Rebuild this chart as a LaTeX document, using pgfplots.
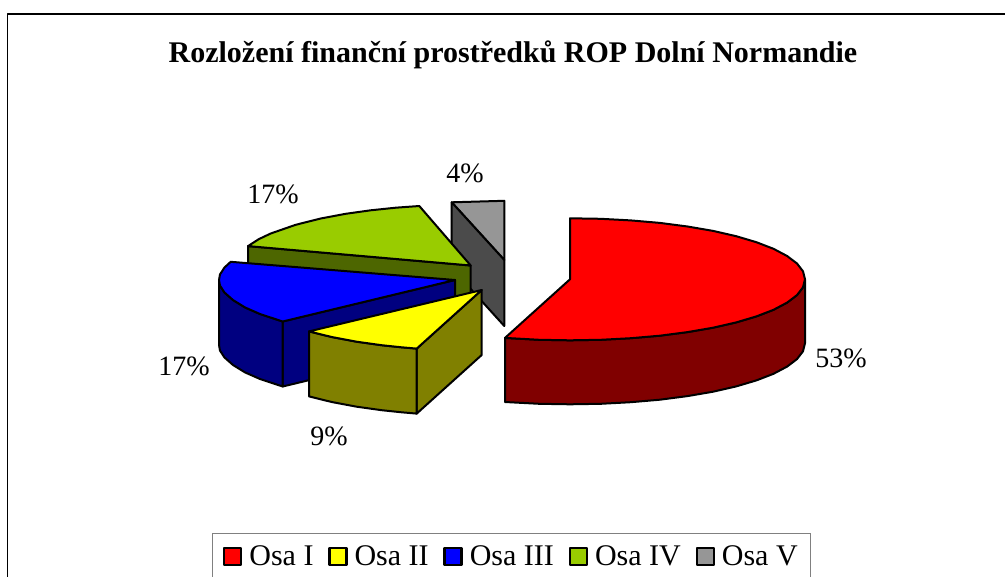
\documentclass[border=0pt]{standalone}
\usepackage{pgfplots}
\pgfplotsset{compat=1.18}
\usepackage{fontspec}
\setmainfont{Liberation Serif}
\definecolor{cRed}{RGB}{255,0,0}
\definecolor{cRedD}{RGB}{128,0,0}
\definecolor{cYel}{RGB}{255,255,0}
\definecolor{cYelD}{RGB}{128,128,0}
\definecolor{cBlu}{RGB}{0,0,255}
\definecolor{cBluD}{RGB}{0,0,128}
\definecolor{cGrn}{RGB}{153,204,0}
\definecolor{cGrnD}{RGB}{77,102,0}
\definecolor{cGry}{RGB}{150,150,150}
\definecolor{cGryD}{RGB}{75,75,75}
\begin{document}
\begin{tikzpicture}
\path[use as bounding box] (0,0) rectangle (1005bp,577bp);
\begin{axis}[
  at={(0,0)},anchor=south west,
  scale only axis,width=1005bp,height=577bp,
  xmin=0,xmax=1005,ymin=0,ymax=577,y dir=reverse,
  axis lines=none,clip=false,
  legend columns=-1,
  legend image code/.code={\draw[#1,line width=2.4bp] (1bp,-9bp) rectangle (18bp,8bp);},
  legend style={at={(axis description cs:0.2109,0.0763)},anchor=north west,draw=gray,line width=1bp,
    font=\fontsize{30bp}{34bp}\selectfont,inner xsep=10.5bp,inner ysep=10bp,
    /tikz/every even column/.append style={column sep=12.7bp},
    /tikz/every odd column/.append style={column sep=5bp}},
  every axis plot/.append style={draw=black,line width=2bp,line join=round},
]
% grey slice
\addplot[fill=cGry,forget plot] coordinates {(451.7,202.3)(504.3,200.8)(504.3,260)} --cycle;
\addplot[fill=cGryD,forget plot] coordinates {(451.7,202.3)(504.3,260)(504.3,326)(451.7,268)} --cycle;
% green slice
\addplot[fill=cGrnD,forget plot] coordinates {(248,246.1)(470.7,265.5)(470.7,330)(248,311)} --cycle;
\addplot[fill=cGrn,forget plot] coordinates {(419.3,206)(395.7,207.7)(370.7,210.3)(345.7,213.8)(320.7,218.5)(295.7,224.8)(270.7,233.5)(258.7,239.2)(248,246.1)(470.7,265.5)} --cycle;
% blue slice
\addplot[fill=cBluD,forget plot] coordinates {(282.7,321.5)(455,280)(455,345)(282.7,386.5)} --cycle;
\addplot[fill=cBluD,forget plot] coordinates {(219,280)(220,285.6)(224.5,292.5)(233,300)(245,307.4)(260,314)(282.7,321.5)(282.7,386.5)(260,379)(245,372.4)(233,365)(224.5,357.5)(220,350.6)(219,345)} --cycle;
\addplot[fill=cBlu,forget plot] coordinates {(455,280)(230.7,261.8)(224.5,267.5)(220,274.4)(219,280)(220,285.6)(224.5,292.5)(233,300)(245,307.4)(260,314)(282.7,321.5)} --cycle;
% yellow slice
\addplot[fill=cYelD,forget plot] coordinates {(416.7,348.6)(481.7,290)(481.7,355)(416.7,413.6)} --cycle;
\addplot[fill=cYelD,forget plot] coordinates {(309,331.4)(331.7,337)(356.7,341.7)(381.7,345.2)(401.7,347.3)(416.7,348.6)(416.7,413.6)(401.7,412.3)(381.7,410.2)(356.7,406.7)(331.7,402)(309,396.4)} --cycle;
\addplot[fill=cYel,forget plot] coordinates {(481.7,290)(309,331.4)(331.7,337)(356.7,341.7)(381.7,345.2)(401.7,347.3)(416.7,348.6)} --cycle;
% red slice
\addplot[fill=cRedD,forget plot] coordinates {(805,279.3)(803,287.3)(797,295.1)(787.1,302.6)(773.5,309.8)(756.4,316.4)(736.2,322.4)(713.1,327.7)(687.5,332.1)(659.9,335.7)(630.8,338.2)(600.7,339.8)(570,340.3)(539.3,339.8)(505,337.9)(505,402)(539.3,403.8)(570,404.3)(600.7,403.8)(630.8,402.2)(659.9,399.7)(687.5,396.1)(713.1,391.7)(736.2,386.4)(756.4,380.4)(773.5,373.8)(787.1,366.6)(797,359.1)(803,351.3)(805,343.3)} --cycle;
\addplot[fill=cRed,forget plot] coordinates {(570,218.3)(600.7,218.8)(630.8,220.4)(659.9,222.9)(687.5,226.5)(713.1,230.9)(736.2,236.2)(756.4,242.2)(773.5,248.8)(787.1,256)(797,263.5)(803,271.3)(805,279.3)(803,287.3)(797,295.1)(787.1,302.6)(773.5,309.8)(756.4,316.4)(736.2,322.4)(713.1,327.7)(687.5,332.1)(659.9,335.7)(630.8,338.2)(600.7,339.8)(570,340.3)(539.3,339.8)(505,337.9)(570,279.3)} --cycle;
% legend entries
\addlegendimage{fill=cRed,draw=black}\addlegendentry{Osa I}
\addlegendimage{fill=cYel,draw=black}\addlegendentry{Osa II}
\addlegendimage{fill=cBlu,draw=black}\addlegendentry{Osa III}
\addlegendimage{fill=cGrn,draw=black}\addlegendentry{Osa IV}
\addlegendimage{fill=cGry,draw=black}\addlegendentry{Osa V}
% frame
\addplot[draw=black,line width=1.5bp,forget plot] coordinates {(7.5,577)(7.5,14)(1005,14)};
% text
\node[font=\fontsize{30bp}{34bp}\selectfont\bfseries] at (axis cs:513,55) {Rozložení finanční prostředků ROP Dolní Normandie};
\node[font=\fontsize{28bp}{30bp}\selectfont] at (axis cs:465,173) {4\%};
\node[font=\fontsize{28bp}{30bp}\selectfont] at (axis cs:273,194) {17\%};
\node[font=\fontsize{28bp}{30bp}\selectfont] at (axis cs:184,366) {17\%};
\node[font=\fontsize{28bp}{30bp}\selectfont] at (axis cs:329,436) {9\%};
\node[font=\fontsize{28bp}{30bp}\selectfont] at (axis cs:841,358) {53\%};
\end{axis}
\end{tikzpicture}
\end{document}
